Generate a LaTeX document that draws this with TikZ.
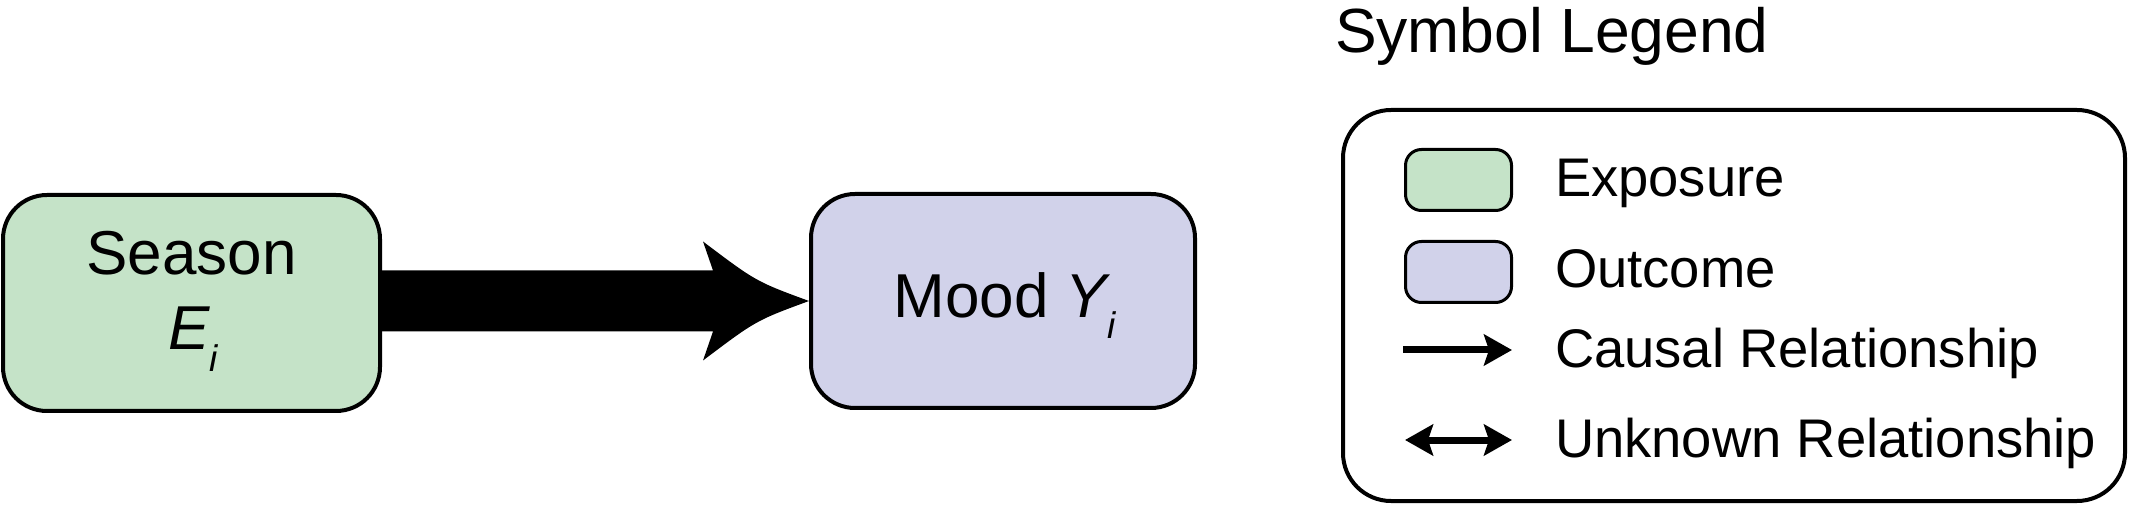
\documentclass[tikz,border=0pt]{standalone}
\usepackage{fontspec}
\setmainfont{Liberation Sans}
\usetikzlibrary{arrows.meta,calc}
\definecolor{expgreen}{RGB}{197,227,200}
\definecolor{outpurple}{RGB}{209,210,234}
\begin{document}
\begin{tikzpicture}[x=0.5pt,y=-0.5pt,
  box/.style={draw=black, line width=2pt, rounded corners=22pt, inner sep=0pt, outer sep=0pt},
  swatch/.style={draw=black, line width=1.5pt, rounded corners=8pt, inner sep=0pt, outer sep=0pt,
    minimum width=53pt, minimum height=30.5pt},
  bigfont/.style={font=\fontsize{31}{37}\selectfont},
  legfont/.style={font=\fontsize{27.2}{32}\selectfont},
  txt/.style={inner sep=0pt, outer sep=0pt},
  legarrow/.style={line width=3.5pt},
  tipstyle/.tip={Stealth[length=14pt, width=15.5pt, inset=2.5pt]}
  ]
\useasboundingbox (0,0) rectangle (2130,507);

% main nodes
\node[box, fill=expgreen, minimum width=188.5pt, minimum height=108pt] (season) at (191.5,303) {};
\node[box, fill=outpurple, minimum width=192pt, minimum height=107pt] (mood) at (1003,301) {};

\node[txt, bigfont, anchor=base] (seasonlbl) at (191.5,275) {Season};
\node[txt, bigfont, anchor=base] (elbl) at (193,350) {\itshape E\raisebox{-11pt}{\fontsize{18.5}{20}\selectfont\itshape i}};
\node[txt, bigfont, anchor=base] (moodlbl) at (1004.5,318) {Mood {\itshape Y\raisebox{-10.5pt}{\fontsize{18.5}{20}\selectfont\itshape i}}};

% big causal arrow
\coordinate (tip) at ($(mood.west)+(-2,0)$);
\coordinate (tail) at (season.east |- tip);
\fill[black] ($(tail)+(0,-30.5)$) -- ($(tip)+(-96,-30.5)$) -- ($(tip)+(-106,-59.5)$)
  .. controls ($(tip)+(-53,-19.5)$) .. (tip)
  .. controls ($(tip)+(-53,19.5)$) .. ($(tip)+(-106,59.5)$)
  -- ($(tip)+(-96,30.5)$) -- ($(tail)+(0,30.5)$) -- cycle;

% legend
\node[txt, font=\fontsize{31.2}{37}\selectfont, anchor=base west] (legtitle) at (1335,53) {Symbol Legend};
\node[box, rounded corners=24pt, minimum width=391pt, minimum height=195.5pt] (legend) at (1734,305.5) {};

\node[swatch, fill=expgreen] (sw1) at (1458.5,180) {};
\node[swatch, fill=outpurple] (sw2) at (1458.5,272) {};

\coordinate (ca) at (1403,350);
\coordinate (cb) at (1512,350);
\coordinate (ua) at (1405,440);
\coordinate (ub) at (1512,440);
\draw[legarrow, -{tipstyle}] (ca) -- (cb);
\draw[legarrow, {tipstyle}-{tipstyle}] (ua) -- (ub);

\node[txt, legfont, anchor=base west] (l1) at (1555,197) {Exposure};
\node[txt, legfont, anchor=base west] (l2) at (1555,288) {Outcome};
\node[txt, legfont, anchor=base west] (l3) at (1555,368) {Causal Relationship};
\node[txt, legfont, anchor=base west] (l4) at (1555,458) {Unknown Relationship};
\end{tikzpicture}
\end{document}
